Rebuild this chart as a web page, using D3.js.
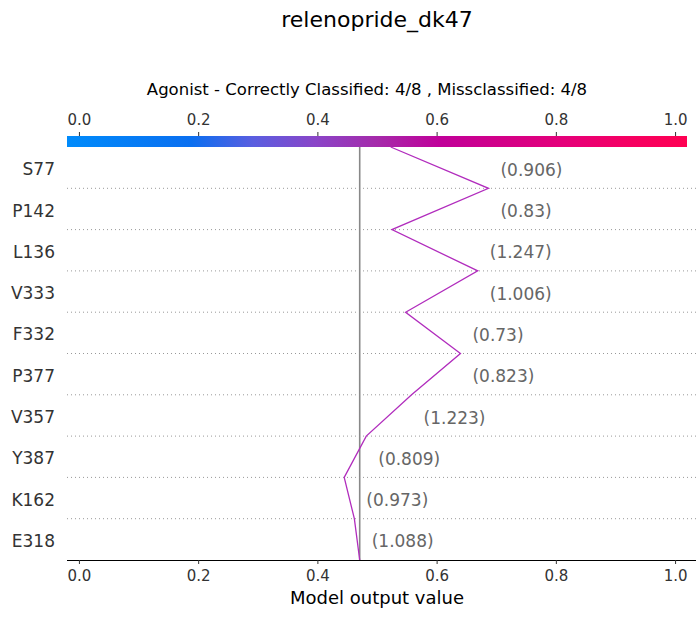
<!DOCTYPE html>
<html lang="en">
  <head>
    <meta charset="UTF-8" />
    <title>relenopride_dk47</title>
    <script src="https://d3js.org/d3.v7.min.js"></script>
    <style>
      body {
        margin: 0;
        background: white;
        font-family: "DejaVu Sans", sans-serif;
      }
      svg {
        display: block;
      }
    </style>
  </head>
  <body>
    <svg id="chart" width="696" height="618"></svg>

    <script>
      // features from top to bottom
      const features = ["S77", "P142", "L136", "V333", "F332", "P377", "V357", "Y387", "K162", "E318"];
      const featureValues = ["0.906", "0.83", "1.247", "1.006", "0.73", "0.823", "1.223", "0.809", "0.973", "1.088"];
      // model output after each feature, top boundary of each row
      const outputs = [0.523, 0.687, 0.525, 0.669, 0.548, 0.64, 0.558, 0.482, 0.445, 0.462];
      const baseValue = 0.471;
      const ticks = [0.0, 0.2, 0.4, 0.6, 0.8, 1.0];
      const cmapStops = ["#008bfb", "#0a6ff0", "#5a5ee0", "#8a45c8", "#a52aaa", "#c0009a", "#d20088", "#e5007a", "#f50063", "#ff0052"];
      const cmapPos = [0, 0.2, 0.3, 0.4, 0.5, 0.6, 0.7, 0.8, 0.9, 1.0];

      const svg = d3.select("#chart");
      const plotLeft = 67, plotRight = 687, plotTop = 147, plotBottom = 560;
      const n = features.length;

      const x = d3.scaleLinear().domain([-0.02, 1.02]).range([plotLeft, plotRight]);
      const y = d3.scaleLinear().domain([0, n]).range([plotBottom, plotTop]);

      // title & subtitle
      svg.append("text")
        .attr("x", 377).attr("y", 27)
        .attr("text-anchor", "middle")
        .attr("font-size", 22)
        .attr("fill", "#000")
        .text("relenopride_dk47");

      svg.append("text")
        .attr("x", 367).attr("y", 95)
        .attr("text-anchor", "middle")
        .attr("font-size", 16.5)
        .attr("fill", "#000")
        .text("Agonist - Correctly Classified: 4/8 , Missclassified: 4/8");

      // colorbar
      const grad = svg.append("defs").append("linearGradient")
        .attr("id", "cbar").attr("x1", "0%").attr("x2", "100%");
      cmapStops.forEach((c, i) => {
        grad.append("stop").attr("offset", cmapPos[i] * 100 + "%").attr("stop-color", c);
      });
      svg.append("rect")
        .attr("x", plotLeft).attr("y", 136)
        .attr("width", plotRight - plotLeft).attr("height", 11)
        .attr("fill", "url(#cbar)");

      const topAxis = svg.append("g").attr("transform", "translate(0,136)")
        .call(d3.axisTop(x).tickValues(ticks).tickFormat(d3.format(".1f")).tickSize(4).tickPadding(7.5));
      topAxis.select(".domain").remove();
      topAxis.selectAll("line").attr("stroke", "#333");
      topAxis.selectAll("text").attr("font-size", 15).attr("fill", "#333").attr("font-family", "DejaVu Sans");

      // dotted row separators
      svg.append("g").selectAll("line")
        .data(d3.range(1, n))
        .enter().append("line")
        .attr("x1", plotLeft).attr("x2", 696)
        .attr("y1", (d) => y(d)).attr("y2", (d) => y(d))
        .attr("stroke", "#999")
        .attr("stroke-width", 1)
        .attr("stroke-dasharray", "1,3");

      // base value line
      svg.append("line")
        .attr("x1", x(baseValue)).attr("x2", x(baseValue))
        .attr("y1", plotTop).attr("y2", plotBottom)
        .attr("stroke", "#888")
        .attr("stroke-width", 1.6);

      // bottom axis
      const bottomAxis = svg.append("g").attr("transform", `translate(0,${plotBottom})`)
        .call(d3.axisBottom(x).tickValues(ticks).tickFormat(d3.format(".1f")).tickSize(4).tickPadding(6));
      bottomAxis.select(".domain").attr("d", `M${plotLeft},0.5H696`).attr("stroke", "#000").attr("stroke-width", 1.2);
      bottomAxis.selectAll("line").attr("stroke", "#333");
      bottomAxis.selectAll("text").attr("font-size", 15).attr("fill", "#333").attr("font-family", "DejaVu Sans");

      svg.append("text")
        .attr("x", 377).attr("y", 604)
        .attr("text-anchor", "middle")
        .attr("font-size", 18)
        .attr("fill", "#000")
        .text("Model output value");

      // decision line: bottom (base) to top
      const pts = [[baseValue, 0]];
      for (let i = n - 1; i >= 0; i--) pts.push([outputs[i], n - i]);
      svg.append("path")
        .datum(pts)
        .attr("fill", "none")
        .attr("stroke", "#b12cbd")
        .attr("stroke-width", 1.3)
        .attr("d", d3.line().x((d) => x(d[0])).y((d) => y(d[1])));

      // feature names and values
      features.forEach((f, i) => {
        const rowTop = n - i;
        const yc = y(rowTop - 0.5);
        svg.append("text")
          .attr("x", 55).attr("y", yc + 1.5)
          .attr("dy", "0.36em")
          .attr("text-anchor", "end")
          .attr("font-size", 17)
          .attr("fill", "#333")
          .text(f);
        const below = i === n - 1 ? baseValue : outputs[i + 1];
        const xv = Math.max(outputs[i], below);
        svg.append("text")
          .attr("x", x(xv) + 12).attr("y", yc + 2)
          .attr("dy", "0.36em")
          .attr("font-size", 17)
          .attr("fill", "#666")
          .text(`(${featureValues[i]})`);
      });
    </script>
  </body>
</html>
